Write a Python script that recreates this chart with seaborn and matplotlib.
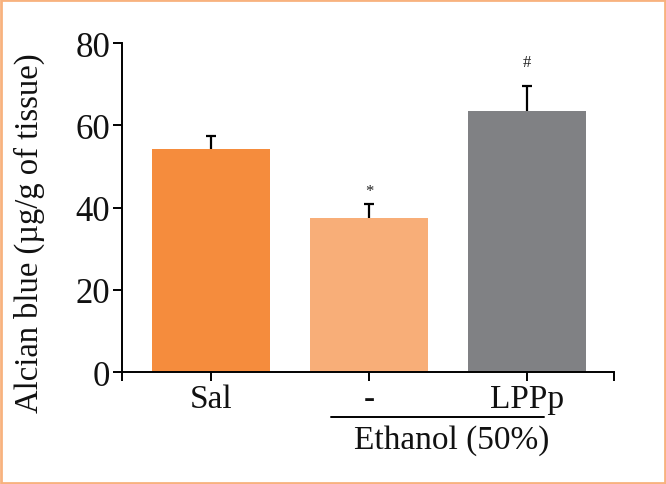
import matplotlib
matplotlib.use("Agg")
import matplotlib.pyplot as plt
import matplotlib.transforms as mtransforms
from matplotlib.patches import Rectangle
import seaborn as sns
import pandas as pd
import numpy as np

groups = ["Sal", "-", "LPPp"]
means = [54.2, 37.6, 63.6]
sems = [3.2, 3.4, 6.0]
colors = ["#F58C3D", "#F8AE78", "#808184"]
marks = ["", "*", "#"]
mark_y = [None, 44.0, 75.5]
yticks = [0, 20, 40, 60, 80]
ylabel = "Alcian blue (µg/g of tissue)"
group_label = "Ethanol (50%)"

sns.set_theme(style="ticks")
plt.rcParams["font.family"] = ["Liberation Serif", "DejaVu Serif"]

df = pd.DataFrame({"group": groups, "value": means})

fig = plt.figure(figsize=(6.66, 4.85), dpi=100)
ax = fig.add_axes([0.1832, 0.2309, 0.7387, 0.6778])

sns.barplot(data=df, x="group", y="value", hue="group", palette=colors,
            order=groups, hue_order=groups, width=0.75, legend=False,
            errorbar=None, saturation=1, edgecolor="none", ax=ax)

xpos = np.arange(len(groups))
eb = ax.errorbar(xpos, means, yerr=[np.zeros(len(sems)), sems], fmt="none",
                 ecolor="black", elinewidth=1.6, capsize=3.5, capthick=1.6, zorder=3)
# hide the lower caps (one-sided error bars)
eb[1][0].set_visible(False)

for x, m, yv in zip(xpos, marks, mark_y):
    if m:
        ax.text(x, yv, m, ha="center", va="center", fontsize=12, color="#222222")

ax.set_xlim(-0.565, 2.55)
ax.set_ylim(0, 80)
ax.set_yticks(yticks)
ax.set_yticklabels([str(t) for t in yticks])
ax.set_xlabel("")
ax.set_ylabel(ylabel, fontsize=23.5, color="#111111")
ax.yaxis.set_label_coords(-0.157, 0.425)

for s in ["top", "right"]:
    ax.spines[s].set_visible(False)
for s in ["left", "bottom"]:
    ax.spines[s].set_linewidth(1.4)
    ax.spines[s].set_color("black")

ax.tick_params(axis="both", which="major", length=6.5, width=1.4, color="black",
               labelsize=24, labelcolor="#111111")
ax.tick_params(axis="y", labelsize=25, pad=2)
ax.tick_params(axis="x", pad=2)
ax.set_xticks([-0.565, 2.55], minor=True)
ax.tick_params(axis="x", which="minor", length=6.5, width=1.4, color="black")

trans = mtransforms.blended_transform_factory(ax.transData, ax.transAxes)
ax.plot([0.76, 2.11], [-0.137, -0.137], color="black", lw=1.4,
        transform=trans, clip_on=False)
ax.text(1.52, -0.205, group_label, transform=trans, ha="center", va="center",
        fontsize=24, color="#111111")

fig.patches.append(Rectangle((0.0015, 0.002), 0.997, 0.996, transform=fig.transFigure,
                             fill=False, edgecolor="#F8B27E", linewidth=2))

fig.savefig("out.png", dpi=100)
